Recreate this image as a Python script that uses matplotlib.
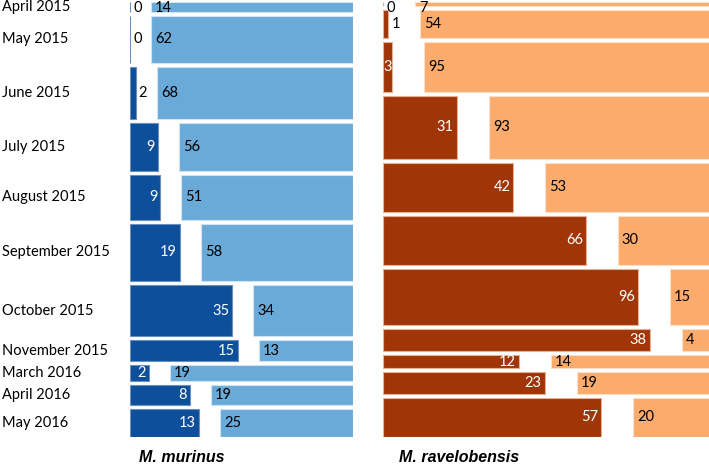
import matplotlib
matplotlib.use("Agg")
import matplotlib.pyplot as plt
import numpy as np

months = ["April 2015", "May 2015", "June 2015", "July 2015", "August 2015",
          "September 2015", "October 2015", "November 2015", "March 2016",
          "April 2016", "May 2016"]
murinus_dark = [0, 0, 2, 9, 9, 19, 35, 15, 2, 8, 13]
murinus_light = [14, 62, 68, 56, 51, 58, 34, 13, 19, 19, 25]
ravelo_dark = [0, 1, 3, 31, 42, 66, 96, 38, 12, 23, 57]
ravelo_light = [7, 54, 95, 93, 53, 30, 15, 4, 14, 19, 20]
species = ["M. murinus", "M. ravelobensis"]

W, H = 709, 465
fig = plt.figure(figsize=(W / 100, H / 100), dpi=100)

FONT = ["Lato", "DejaVu Sans"]
FS = 10.5


def panel(x0, x1, gap_px, dark, light, cdark, clight, edark, elight):
    y0, y1 = 2, 437
    ax = fig.add_axes([x0 / W, 1 - y1 / H, (x1 - x0) / W, (y1 - y0) / H])
    ax.set_axis_off()
    n = len(dark)
    dark = np.array(dark, float)
    light = np.array(light, float)
    tot = dark + light
    T = tot.sum()
    gfrac = 4 / (y1 - y0)
    G = gfrac * T / (1 - (n - 1) * gfrac)
    span_w = x1 - x0
    Wbar = span_w - gap_px
    gx = gap_px / Wbar
    ax.set_xlim(0, 1 + gx)
    ytot = T + (n - 1) * G
    ax.set_ylim(ytot, 0)
    tops = np.concatenate([[0], np.cumsum(tot[:-1] + G)])
    fd = dark / tot
    ax.barh(tops, fd, height=tot, left=0, align="edge", color=cdark,
            edgecolor=edark, linewidth=0.8)
    ax.barh(tops, 1 - fd, height=tot, left=fd + gx, align="edge",
            color=clight, edgecolor=elight, linewidth=0.8)
    px = (1 + gx) / span_w  # data units per pixel
    py = ytot / (y1 - y0)
    centers = tops + tot / 2
    for i in range(n):
        cy = max(centers[i], 6 * py)
        dwidth_px = fd[i] * Wbar
        if dwidth_px >= 8:
            pad = 3 if dwidth_px >= 14 else 0
            ax.text(fd[i] - pad * px, cy, f"{int(dark[i])}", color="white",
                    ha="right", va="center", fontsize=FS, family=FONT)
        else:
            ax.text(fd[i] + 3 * px, cy, f"{int(dark[i])}", color="black",
                    ha="left", va="center", fontsize=FS, family=FONT)
        ax.text(fd[i] + gx + 4 * px, cy, f"{int(light[i])}", color="black",
                ha="left", va="center", fontsize=FS, family=FONT)
    return ax, centers


axl, cl = panel(130, 353, 21, murinus_dark, murinus_light,
                "#0d4f9b", "#6aaad9", "#6a90c0", "#cfe3f3")
axr, cr = panel(383, 710, 32, ravelo_dark, ravelo_light,
                "#a03508", "#fbab6c", "#e8b090", "#fde0c8")

for m, c in zip(months, cl):
    axl.text(-128 / 223 * axl.get_xlim()[1], c, m, ha="left", va="center",
             fontsize=FS, family=FONT, color="black")

fig.text(182 / W, 1 - 457 / H, species[0], ha="center", va="center",
         fontsize=11.5, fontweight="bold", fontstyle="italic",
         family=["Liberation Sans", "DejaVu Sans"])
fig.text(459 / W, 1 - 457 / H, species[1], ha="center", va="center",
         fontsize=11.5, fontweight="bold", fontstyle="italic",
         family=["Liberation Sans", "DejaVu Sans"])

fig.savefig("out.png", dpi=100)
